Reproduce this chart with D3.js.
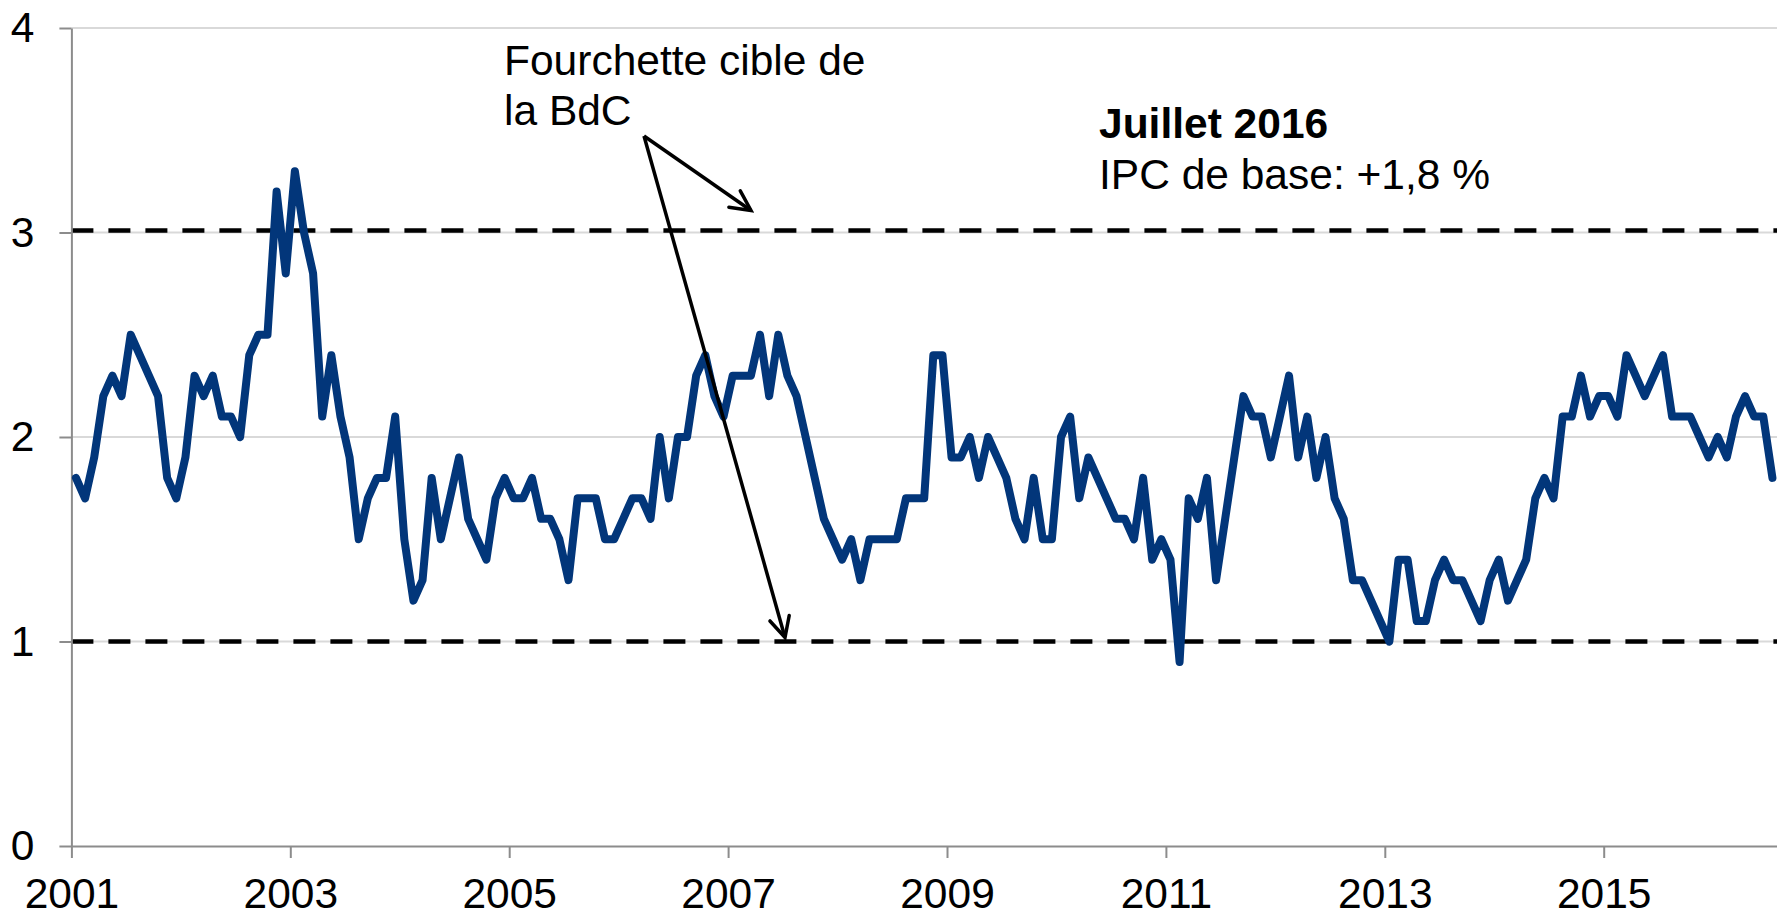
<!DOCTYPE html>
<html>
<head>
<meta charset="utf-8">
<script src="https://cdn.jsdelivr.net/npm/d3@7"></script>
<style>
  html, body { margin: 0; padding: 0; background: #fff; }
  svg { display: block; font-family: "Liberation Sans", Arial, sans-serif; }
</style>
</head>
<body>
<svg id="chart" width="1777" height="916"></svg>
<script>
// ---------- data ----------
const startYear = 2001;
// Monthly core CPI (y/y %), Jan 2001 .. Jul 2016
const values2001 = [1.8, 1.7, 1.9, 2.2, 2.3, 2.2, 2.5, 2.4, 2.3, 2.2, 1.8, 1.7];
const values2002 = [1.9, 2.3, 2.2, 2.3, 2.1, 2.1, 2.0, 2.4, 2.5, 2.5, 3.2, 2.8];
const values2003 = [3.3, 3.0, 2.8, 2.1, 2.4, 2.1, 1.9, 1.5, 1.7, 1.8, 1.8, 2.1];
const values2004 = [1.5, 1.2, 1.3, 1.8, 1.5, 1.7, 1.9, 1.6, 1.5, 1.4, 1.7, 1.8];
const values2005 = [1.7, 1.7, 1.8, 1.6, 1.6, 1.5, 1.3, 1.7, 1.7, 1.7, 1.5, 1.5];
const values2006 = [1.6, 1.7, 1.7, 1.6, 2.0, 1.7, 2.0, 2.0, 2.3, 2.4, 2.2, 2.1];
const values2007 = [2.3, 2.3, 2.3, 2.5, 2.2, 2.5, 2.3, 2.2, 2.0, 1.8, 1.6, 1.5];
const values2008 = [1.4, 1.5, 1.3, 1.5, 1.5, 1.5, 1.5, 1.7, 1.7, 1.7, 2.4, 2.4];
const values2009 = [1.9, 1.9, 2.0, 1.8, 2.0, 1.9, 1.8, 1.6, 1.5, 1.8, 1.5, 1.5];
const values2010 = [2.0, 2.1, 1.7, 1.9, 1.8, 1.7, 1.6, 1.6, 1.5, 1.8, 1.4, 1.5];
const values2011 = [1.4, 0.9, 1.7, 1.6, 1.8, 1.3, 1.6, 1.9, 2.2, 2.1, 2.1, 1.9];
const values2012 = [2.1, 2.3, 1.9, 2.1, 1.8, 2.0, 1.7, 1.6, 1.3, 1.3, 1.2, 1.1];
const values2013 = [1.0, 1.4, 1.4, 1.1, 1.1, 1.3, 1.4, 1.3, 1.3, 1.2, 1.1, 1.3];
const values2014 = [1.4, 1.2, 1.3, 1.4, 1.7, 1.8, 1.7, 2.1, 2.1, 2.3, 2.1, 2.2];
const values2015 = [2.2, 2.1, 2.4, 2.3, 2.2, 2.3, 2.4, 2.1, 2.1, 2.1, 2.0, 1.9];
const values2016 = [2.0, 1.9, 2.1, 2.2, 2.1, 2.1, 1.8];

const values = [].concat(values2001, values2002, values2003, values2004, values2005,
  values2006, values2007, values2008, values2009, values2010, values2011,
  values2012, values2013, values2014, values2015, values2016);

const xTickLabels = ["2001", "2003", "2005", "2007", "2009", "2011", "2013", "2015"];
const yTickValues = [0, 1, 2, 3, 4];
const targetBand = [1.0, 3.01];

const annotationTarget = ["Fourchette cible de", "la BdC"];
const annotationTitle = "Juillet 2016";
const annotationValue = "IPC de base: +1,8 %";

// ---------- layout ----------
const svg = d3.select("#chart");
const plotLeft = 71.4, plotRight = 1777, plotTop = 28, plotBottom = 846;
const nMonths = values.length;

const x = d3.scaleLinear().domain([0, nMonths]).range([plotLeft, plotRight]);
const y = d3.scaleLinear().domain([0, 4]).range([plotBottom, plotTop]);

const tickIndex = xTickLabels.map(l => (+l - startYear) * 12);

// gridlines
svg.append("g")
  .selectAll("line")
  .data(yTickValues.filter(v => v > 0))
  .join("line")
  .attr("x1", plotLeft).attr("x2", plotRight)
  .attr("y1", d => y(d)).attr("y2", d => y(d))
  .attr("stroke", "#d9d9d9").attr("stroke-width", 2);

// target band dashed lines
svg.append("g")
  .selectAll("line")
  .data(targetBand)
  .join("line")
  .attr("x1", plotLeft).attr("x2", plotRight)
  .attr("y1", d => y(d)).attr("y2", d => y(d))
  .attr("stroke", "#000").attr("stroke-width", 4.5)
  .attr("stroke-dasharray", "22 15");

// axes
const fontSize = 42.5;
const yAxis = d3.axisLeft(y).tickValues(yTickValues).tickSize(12).tickSizeOuter(0).tickPadding(25).tickFormat(d3.format("d"));
const gy = svg.append("g").attr("transform", `translate(${plotLeft},0)`).call(yAxis);
gy.selectAll("text").attr("font-size", fontSize).attr("fill", "#000").attr("font-family", "Liberation Sans, Arial, sans-serif");

const xAxis = d3.axisBottom(x).tickValues(tickIndex).tickSize(12).tickSizeOuter(0)
  .tickFormat((d, i) => xTickLabels[i]);
const gx = svg.append("g").attr("transform", `translate(0,${plotBottom})`).call(xAxis);
gx.selectAll("text").attr("font-size", fontSize).attr("fill", "#000")
  .attr("font-family", "Liberation Sans, Arial, sans-serif")
  .attr("y", 62).attr("dy", 0);

[gx, gy].forEach(g => {
  g.selectAll("path.domain").attr("stroke", "#8c8c8c").attr("stroke-width", 2);
  g.selectAll(".tick line").attr("stroke", "#8c8c8c").attr("stroke-width", 2);
});

// data line
const line = d3.line()
  .x((d, i) => x(i + 0.5))
  .y(d => y(d));

svg.append("path")
  .datum(values)
  .attr("d", line)
  .attr("fill", "none")
  .attr("stroke", "#02367a")
  .attr("stroke-width", 8)
  .attr("stroke-linejoin", "round")
  .attr("stroke-linecap", "round");

// arrows
const defs = svg.append("defs");
defs.append("marker")
  .attr("id", "arrowhead")
  .attr("markerUnits", "userSpaceOnUse")
  .attr("viewBox", "-26 -14 30 28")
  .attr("refX", 0).attr("refY", 0)
  .attr("markerWidth", 30).attr("markerHeight", 28)
  .attr("orient", "auto")
  .append("path")
  .attr("d", "M-20,-10 L0,0 L-20,10")
  .attr("fill", "none").attr("stroke", "#000").attr("stroke-width", 3.5)
  .attr("stroke-linecap", "round").attr("stroke-linejoin", "miter");

// arrow start near the label, tips on the band lines
const arrowStart = [644, 136];
const arrowTips = [[751, y(3.01) - 20], [785, y(1.0) - 4]];
svg.append("g")
  .selectAll("line")
  .data(arrowTips)
  .join("line")
  .attr("x1", arrowStart[0]).attr("y1", arrowStart[1])
  .attr("x2", d => d[0]).attr("y2", d => d[1])
  .attr("stroke", "#000").attr("stroke-width", 3.5)
  .attr("marker-end", "url(#arrowhead)");

// annotation text
svg.append("g")
  .selectAll("text")
  .data(annotationTarget)
  .join("text")
  .attr("x", 504)
  .attr("y", (d, i) => 75 + i * 50)
  .attr("font-size", fontSize)
  .attr("fill", "#000")
  .text(d => d);

svg.append("text")
  .attr("x", 1099).attr("y", 138)
  .attr("font-size", fontSize).attr("font-weight", "bold")
  .attr("fill", "#000")
  .text(annotationTitle);

svg.append("text")
  .attr("x", 1099).attr("y", 189)
  .attr("font-size", fontSize)
  .attr("fill", "#000")
  .text(annotationValue);
</script>
</body>
</html>
